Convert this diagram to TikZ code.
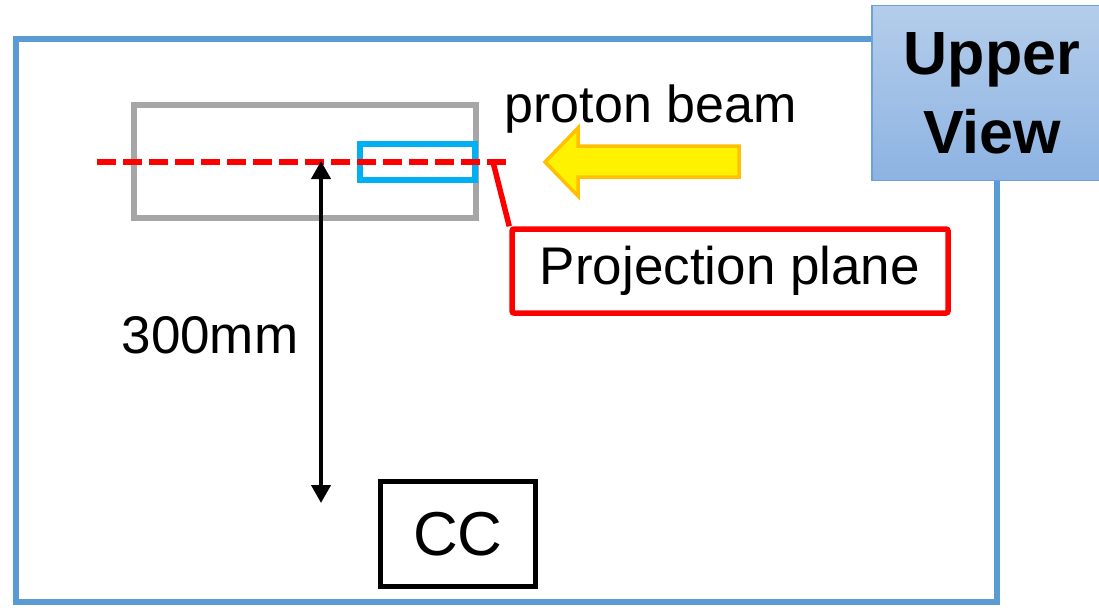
\documentclass[tikz,border=0pt]{standalone}
\usepackage{fontspec}
\setmainfont{Liberation Sans}
\usetikzlibrary{arrows.meta}
\definecolor{framecol}{HTML}{5B9BD5}
\definecolor{targetgray}{HTML}{A6A6A6}
\definecolor{planecyan}{HTML}{00B0F0}
\definecolor{arrowgold}{HTML}{FFC000}
\definecolor{viewtop}{HTML}{B4CDEB}
\definecolor{viewbot}{HTML}{8DB3E2}
\definecolor{viewedge}{HTML}{6FA0DA}

\begin{document}
\begin{tikzpicture}[x=1pt, y=-1pt, font=\fontsize{52}{62}\selectfont,
  frame/.style={draw=framecol, line width=6pt},
  beamline/.style={red, line width=5.5pt, dash pattern=on 19pt off 7pt},
  callout/.style={draw=red, line width=5.5pt, rounded corners=2pt},
  dimarrow/.style={line width=4pt, {Triangle[width=19pt,length=18pt]}-{Triangle[width=19pt,length=18pt]}, shorten <=-1pt, shorten >=-1pt}]
\useasboundingbox (0,0) rectangle (1099,607);
% ---------- chamber outline ----------
\draw[frame] (16,39) rectangle (997,602);
% target region and projection plane
\draw[targetgray, line width=5.5pt] (134,105) rectangle (476,218);
\draw[planecyan, line width=5.5pt] (360,144) rectangle (475,180);
\draw[beamline] (97,162) -- (512,162);
% beam direction
\node[anchor=base west] (beam) at (501,123) {proton beam};
\draw[arrowgold, fill=yellow, line width=3.5pt, line join=miter]
  (739,146) -- (578,146) -- (578,128) -- (545,162) -- (578,196) -- (578,177) -- (739,177) -- cycle;
% callout for the plane
\coordinate (planept) at (493,162);
\node[callout, minimum width=436pt, minimum height=84pt, font=\fontsize{53}{62}\selectfont]
  (planelabel) at (730,271) {Projection plane};
\draw[red, line width=5.5pt] (planept) -- (planelabel.north west);
% distance to CC
\coordinate (dimtop) at (321,162);
\coordinate (dimbot) at (321,502);
\draw[dimarrow] (dimbot) -- (dimtop);
\node[anchor=base west, font=\fontsize{53}{62}\selectfont] (dist) at (118,353) {300mm};
\node[draw, line width=5.5pt, minimum width=155pt, minimum height=105pt, font=\fontsize{62}{72}\selectfont]
  (cc) at (458,534) {CC};
% ---------- view label ----------
\node[draw=viewedge, line width=1.5pt, top color=viewtop, bottom color=viewbot,
  minimum width=240pt, minimum height=175pt, align=center,
  font=\fontsize{61}{79}\selectfont\bfseries] (view) at (992,93) {Upper\\View};
\end{tikzpicture}
\end{document}
